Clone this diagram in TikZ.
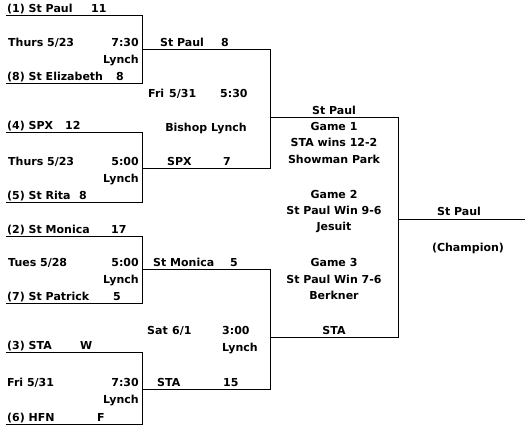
\documentclass[tikz,border=0pt]{standalone}
\usepackage{fontspec}
\setmainfont{DejaVu Sans}
\begin{document}
\begin{tikzpicture}[x=1pt,y=-1pt,
  lbl/.style={anchor=base west, inner sep=0pt, font=\fontsize{11}{13}\selectfont\bfseries},
  rlbl/.style={lbl, anchor=base east},
  clbl/.style={lbl, anchor=base},
  bline/.style={line width=1pt}]
\useasboundingbox[fill=white] (0,0) rectangle (525,430);
% coordinates
\coordinate (a1) at (6,16);   \coordinate (a2) at (142,16);
\coordinate (a3) at (142,84); \coordinate (a4) at (6,84);
\coordinate (ao) at (142,50);
\coordinate (b1) at (6,133);   \coordinate (b2) at (142,133);
\coordinate (b3) at (142,203); \coordinate (b4) at (6,203);
\coordinate (bo) at (142,169);
\coordinate (c1) at (6,237);   \coordinate (c2) at (142,237);
\coordinate (c3) at (142,304); \coordinate (c4) at (6,304);
\coordinate (co) at (142,270);
\coordinate (d1) at (6,353);   \coordinate (d2) at (142,353);
\coordinate (d3) at (142,424); \coordinate (d4) at (6,424);
\coordinate (do) at (142,390);
\coordinate (e1) at (270,50);  \coordinate (e2) at (270,169);
\coordinate (eo) at (270,118);
\coordinate (f1) at (270,270); \coordinate (f2) at (270,390);
\coordinate (fo) at (270,338);
\coordinate (g1) at (398,118); \coordinate (g2) at (398,338);
\coordinate (go) at (398,220);
\coordinate (h) at (525,220);
% bracket lines
\draw[bline] (a1) -- (a2) -- (a3) -- (a4);
\draw[bline] (b1) -- (b2) -- (b3) -- (b4);
\draw[bline] (c1) -- (c2) -- (c3) -- (c4);
\draw[bline] (d1) -- (d2) -- (d3) -- (d4);
\draw[bline] (ao) -- (e1) -- (e2) -- (bo);
\draw[bline] (co) -- (f1) -- (f2) -- (do);
\draw[bline] (eo) -- (g1) -- (g2) -- (fo);
\draw[bline] (go) -- (h);
% box 1
\node[lbl] (t1) at (7,13) {(1) St Paul};
\node[lbl] (s1) at (91,13) {11};
\node[lbl] (d1t) at (8,47) {Thurs 5/23};
\node[rlbl] (tm1) at (139,47) {7:30};
\node[rlbl] (l1) at (139,64) {Lynch};
\node[lbl] (t8) at (7,81) {(8) St Elizabeth};
\node[lbl] (s8) at (116,81) {8};
% box 2
\node[lbl] (t4) at (7,130) {(4) SPX};
\node[lbl] (s4) at (65,130) {12};
\node[lbl] (d2t) at (8,166) {Thurs 5/23};
\node[rlbl] (tm2) at (139,166) {5:00};
\node[rlbl] (l2) at (139,183) {Lynch};
\node[lbl] (t5) at (7,200) {(5) St Rita};
\node[lbl] (s5) at (79,200) {8};
% box 3
\node[lbl] (t2) at (7,234) {(2) St Monica};
\node[lbl] (s2) at (111,234) {17};
\node[lbl] (d3t) at (8,267) {Tues 5/28};
\node[rlbl] (tm3) at (139,267) {5:00};
\node[rlbl] (l3) at (139,284) {Lynch};
\node[lbl] (t7) at (7,301) {(7) St Patrick};
\node[lbl] (s7) at (113,301) {5};
% box 4
\node[lbl] (t3) at (7,350) {(3) STA};
\node[lbl] (s3) at (80,350) {W};
\node[lbl] (d4t) at (7,387) {Fri 5/31};
\node[rlbl] (tm4) at (139,387) {7:30};
\node[rlbl] (l4) at (139,403) {Lynch};
\node[lbl] (t6) at (7,421) {(6) HFN};
\node[lbl] (s6) at (97,421) {F};
% round 2 upper
\node[lbl] (u1) at (160,47) {St Paul};
\node[lbl] (us1) at (221,47) {8};
\node[lbl] (ud) at (148,98) {Fri};
\node[lbl] (ud2) at (169,98) {5/31};
\node[lbl] (ut) at (220,98) {5:30};
\node[clbl] (ul) at (206,132) {Bishop Lynch};
\node[lbl] (u2) at (167,166) {SPX};
\node[lbl] (us2) at (223,166) {7};
% round 2 lower
\node[lbl] (w1) at (153,267) {St Monica};
\node[lbl] (ws1) at (230,267) {5};
\node[lbl] (wd) at (147,335) {Sat};
\node[lbl] (wd2) at (172,335) {6/1};
\node[lbl] (wt) at (222,335) {3:00};
\node[lbl] (wl) at (222,352) {Lynch};
\node[lbl] (w2) at (157,387) {STA};
\node[lbl] (ws2) at (223,387) {15};
% round 3
\node[clbl] (r0) at (334,115) {St Paul};
\node[clbl] (r1) at (334,131) {Game 1};
\node[clbl] (r2) at (334,147) {STA wins 12-2};
\node[clbl] (r3) at (334,164) {Showman Park};
\node[clbl] (r4) at (334,199) {Game 2};
\node[clbl] (r5) at (334,215) {St Paul Win 9-6};
\node[clbl] (r6) at (334,231) {Jesuit};
\node[clbl] (r7) at (334,267) {Game 3};
\node[clbl] (r8) at (334,284) {St Paul Win 7-6};
\node[clbl] (r9) at (334,300) {Berkner};
\node[clbl] (r10) at (334,335) {STA};
% champion
\node[clbl] (ch) at (459,216) {St Paul};
\node[clbl] (chl) at (468,252) {(Champion)};
\end{tikzpicture}
\end{document}
